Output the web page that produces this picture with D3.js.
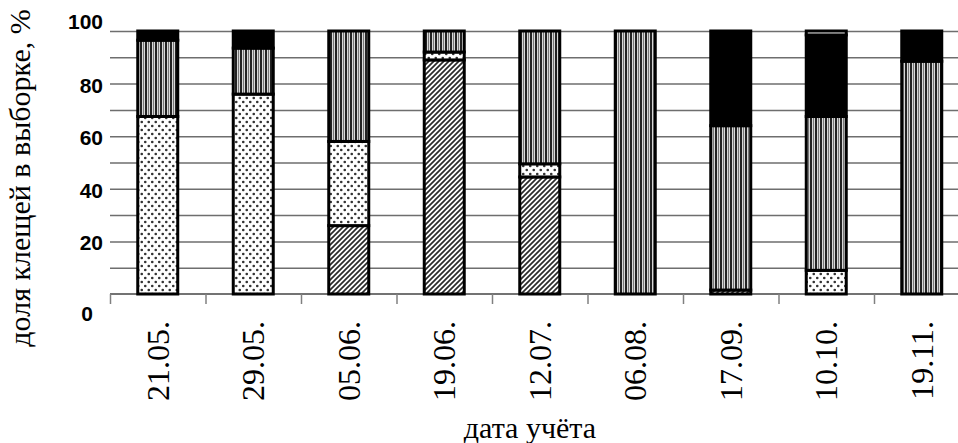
<!DOCTYPE html>
<html>
<head>
<meta charset="utf-8">
<script src="https://cdn.jsdelivr.net/npm/d3@7/dist/d3.min.js"></script>
<style>
  html, body { margin: 0; padding: 0; background: #fff; }
  svg { display: block; }
  .serif { font-family: 'Liberation Serif', 'Times New Roman', 'DejaVu Serif', serif; }
</style>
</head>
<body>
<svg id="chart" width="958" height="443"></svg>
<script>
const categories = ['21.05.', '29.05.', '05.06.', '19.06.', '12.07.', '06.08.', '17.09.', '10.10.', '19.11.'];
const hatched = [0, 0, 26, 89, 44.5, 0, 1.5, 0, 0];
const dotted  = [67.5, 76, 32, 3, 5, 0, 0, 9, 0];
const striped = [29, 17.5, 42, 8, 50.5, 100, 62.5, 58.5, 88.5];
const black   = [3.5, 6.5, 0, 0, 0, 0, 36, 31, 11.5];
const white   = [0, 0, 0, 0, 0, 0, 0, 1.5, 0];
const yTicks = [0, 20, 40, 60, 80, 100];
const gridTicks = [10, 20, 30, 40, 50, 60, 70, 80, 90, 100];
const yTitle = 'доля клещей в выборке, %';
const xTitle = 'дата учёта';

const seriesKeys = ['hatched', 'dotted', 'striped', 'black', 'white'];
const seriesData = { hatched, dotted, striped, black, white };
const table = categories.map((c, i) => {
  const row = { cat: c };
  seriesKeys.forEach(k => row[k] = seriesData[k][i]);
  return row;
});

const svg = d3.select('#chart');
const mLeft = 110, mBottom = 294, mTop = 31, step = 95.5;
const x = d3.scaleBand().domain(categories).range([mLeft, mLeft + step * categories.length]).padding(0);
const y = d3.scaleLinear().domain([0, 100]).range([mBottom, mTop]);
const barW = 40;

// patterns
const defs = svg.append('defs');
const ph = defs.append('pattern').attr('id', 'p-hatch').attr('patternUnits', 'userSpaceOnUse')
  .attr('width', 5).attr('height', 5);
ph.append('rect').attr('width', 5).attr('height', 5).attr('fill', '#fff');
ph.append('path').attr('d', 'M-1,6 L6,-1 M-1,1 L1,-1 M4,6 L6,4')
  .attr('stroke', '#2a2a2a').attr('stroke-width', 1.7);

const pd = defs.append('pattern').attr('id', 'p-dots').attr('patternUnits', 'userSpaceOnUse')
  .attr('width', 7).attr('height', 8);
pd.append('rect').attr('width', 7).attr('height', 8).attr('fill', '#fff');
pd.append('circle').attr('cx', 1.75).attr('cy', 2).attr('r', 1.3).attr('fill', '#333');
pd.append('circle').attr('cx', 5.25).attr('cy', 6).attr('r', 1.3).attr('fill', '#333');

const ps = defs.append('pattern').attr('id', 'p-stripes').attr('patternUnits', 'userSpaceOnUse')
  .attr('width', 5).attr('height', 10);
ps.append('rect').attr('width', 5).attr('height', 10).attr('fill', '#d8d8d8');
ps.append('rect').attr('x', 0).attr('width', 2).attr('height', 10).attr('fill', '#222');
ps.append('rect').attr('x', 3).attr('width', 1).attr('height', 10).attr('fill', '#777');

const fills = { hatched: 'url(#p-hatch)', dotted: 'url(#p-dots)', striped: 'url(#p-stripes)', black: '#000', white: '#fff' };

// gridlines
svg.append('g').attr('class', 'grid')
  .attr('transform', `translate(${mLeft},0)`)
  .call(d3.axisLeft(y).tickValues(gridTicks).tickSize(-(958 - mLeft)).tickFormat(''))
  .call(g => g.select('.domain').remove())
  .call(g => g.selectAll('line').attr('stroke', '#6e6e6e').attr('stroke-width', 1.5));

// y labels
const yAxis = svg.append('g').attr('class', 'y-axis')
  .attr('transform', `translate(${mLeft},0)`)
  .call(d3.axisLeft(y).tickValues(yTicks).tickSize(0).tickPadding(7))
  .call(g => g.select('.domain').remove());
yAxis.selectAll('text')
  .attr('font-family', 'Liberation Sans, Arial, sans-serif')
  .attr('font-weight', 'bold').attr('font-size', 21).attr('fill', '#000')
  .attr('dy', d => d === 100 ? '-0.1em' : d === 0 ? '1.25em' : '0.4em')
  .attr('dx', d => d === 0 ? -10 : 0);

// baseline + x ticks at band boundaries
svg.append('line').attr('x1', mLeft).attr('x2', 958).attr('y1', y(0)).attr('y2', y(0))
  .attr('stroke', '#444').attr('stroke-width', 1.5);
svg.append('g').selectAll('line').data(categories).join('line')
  .attr('x1', d => x(d) + 0.5).attr('x2', d => x(d) + 0.5)
  .attr('y1', y(0)).attr('y2', y(0) + 10)
  .attr('stroke', '#808080').attr('stroke-width', 1.5);

// bars
const stack = d3.stack().keys(seriesKeys)(table);
svg.append('g').selectAll('g').data(stack).join('g')
  .attr('fill', d => fills[d.key])
  .selectAll('rect').data(d => d.filter(s => s[1] - s[0] > 0)).join('rect')
  .attr('x', d => x(d.data.cat) + (x.bandwidth() - barW) / 2)
  .attr('width', barW)
  .attr('y', d => y(d[1]))
  .attr('height', d => y(d[0]) - y(d[1]))
  .attr('stroke', '#000').attr('stroke-width', 3);

// x labels
const xAxis = svg.append('g').attr('class', 'x-axis')
  .attr('transform', `translate(0,${mBottom})`)
  .call(d3.axisBottom(x).tickSize(0).tickFormat(d => d))
  .call(g => g.select('.domain').remove());
xAxis.attr('font-family', null);
xAxis.selectAll('text')
  .attr('class', 'serif')
  .attr('font-size', 32).attr('fill', '#000')
  .attr('text-anchor', 'end')
  .attr('transform', 'rotate(-90)')
  .attr('x', -27).attr('y', 0).attr('dy', '0.35em');

// titles
svg.append('text').text(xTitle).attr('class', 'serif')
  .attr('x', 530).attr('y', 438).attr('text-anchor', 'middle')
  .attr('font-size', 30).attr('fill', '#000');
svg.append('text').text(yTitle).attr('class', 'serif')
  .attr('transform', 'translate(30,178) rotate(-90)').attr('text-anchor', 'middle')
  .attr('font-size', 30).attr('fill', '#000');
</script>
</body>
</html>
